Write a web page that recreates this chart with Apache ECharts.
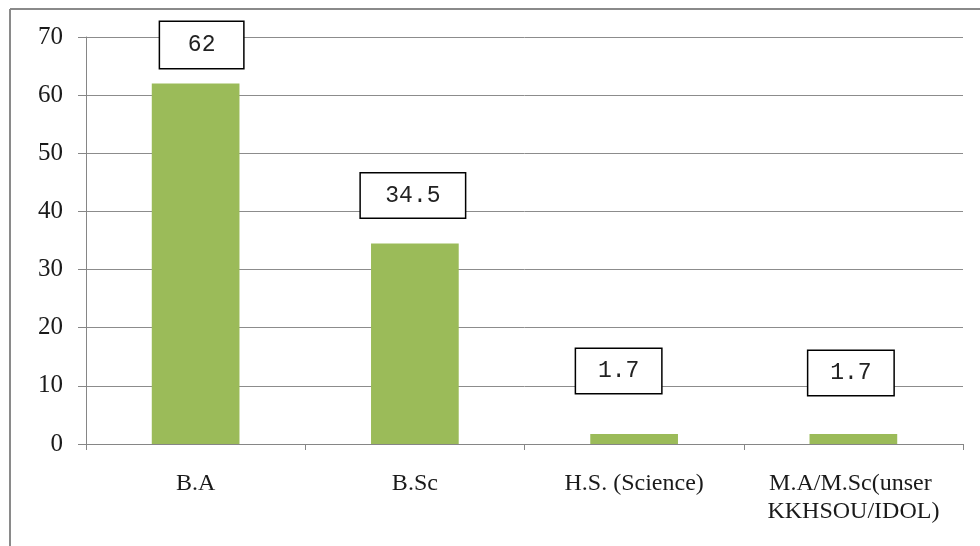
<!DOCTYPE html>
<html>
<head>
<meta charset="utf-8">
<script src="https://cdn.jsdelivr.net/npm/echarts@6/dist/echarts.min.js"></script>
<style>
html, body { margin: 0; padding: 0; background: #ffffff; }
#chart { width: 980px; height: 546px; }
</style>
</head>
<body>
<div id="chart"></div>
<script>
// ---- data ----
var categories = ['B.A', 'B.Sc', 'H.S. (Science)', 'M.A/M.Sc(unser KKHSOU/IDOL)'];
var values = [62, 34.5, 1.7, 1.7];
var yTicks = [0, 10, 20, 30, 40, 50, 60, 70];

// ---- label box styling (not data) ----
var boxWidths = [83, 104, 85, 85];
var boxHeights = [46, 44, 44, 44];
var boxShifts = [[6, -15.5], [-2, -26], [-15.5, -41], [-2.5, -39]];

var chart = echarts.init(document.getElementById('chart'));

var seriesData = values.map(function (v, i) {
  return {
    value: v,
    label: {
      width: boxWidths[i],
      height: boxHeights[i],
      lineHeight: boxHeights[i],
      offset: boxShifts[i]
    }
  };
});

chart.setOption({
  animation: false,
  backgroundColor: '#ffffff',
  graphic: [
    { type: 'line', shape: { x1: 10, y1: 9, x2: 980, y2: 9 }, style: { stroke: '#8a8a8a', lineWidth: 2 } },
    { type: 'line', shape: { x1: 10, y1: 9, x2: 10, y2: 546 }, style: { stroke: '#8a8a8a', lineWidth: 2 } }
  ],
  grid: { left: 86, right: 17, top: 37, bottom: 102, containLabel: false },
  xAxis: {
    type: 'category',
    data: categories,
    axisLine: { lineStyle: { color: '#868686', width: 1 } },
    axisTick: { show: true, length: 6, lineStyle: { color: '#868686' } },
    axisLabel: {
      margin: 26,
      fontFamily: 'Liberation Serif',
      fontSize: 24,
      lineHeight: 28,
      color: '#1a1a1a',
      width: 205,
      overflow: 'break',
      interval: 0
    }
  },
  yAxis: {
    type: 'value',
    min: yTicks[0],
    max: yTicks[yTicks.length - 1],
    interval: yTicks[1] - yTicks[0],
    axisLine: { show: true, lineStyle: { color: '#868686', width: 1 } },
    axisTick: { show: true, length: 8, lineStyle: { color: '#868686' } },
    splitLine: { show: true, lineStyle: { color: '#8c8c8c', width: 1 } },
    axisLabel: {
      margin: 23,
      fontFamily: 'Liberation Serif',
      fontSize: 25,
      color: '#1a1a1a'
    }
  },
  series: [{
    type: 'bar',
    data: seriesData,
    barWidth: '40%',
    itemStyle: { color: '#9BBB59' },
    label: {
      show: true,
      position: 'top',
      distance: 0,
      fontFamily: 'Liberation Mono',
      fontSize: 23,
      color: '#222222',
      backgroundColor: '#ffffff',
      borderColor: '#000000',
      borderWidth: 1.5,
      padding: 0,
      align: 'center'
    }
  }]
});
</script>
</body>
</html>
